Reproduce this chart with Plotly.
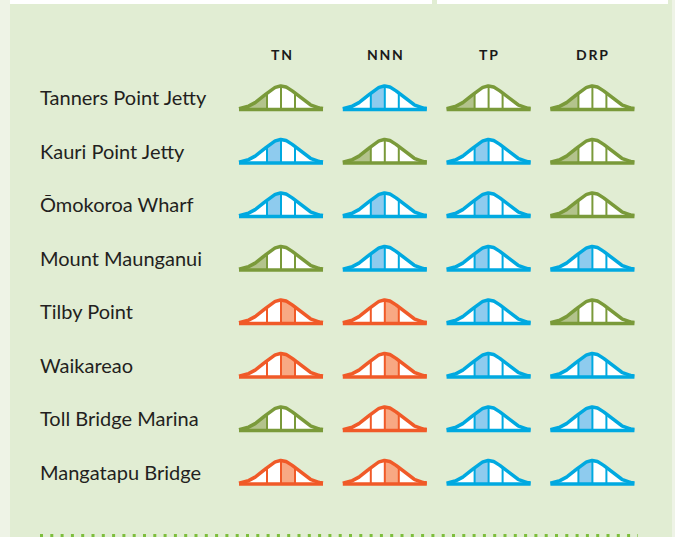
import numpy as np
import plotly.graph_objects as go

# sites (rows) and parameters (columns)
sites = [
    "Tanners Point Jetty",
    "Kauri Point Jetty",
    "Ōmokoroa Wharf",
    "Mount Maunganui",
    "Tilby Point",
    "Waikareao",
    "Toll Bridge Marina",
    "Mangatapu Bridge",
]
params = ["TN", "NNN", "TP", "DRP"]

# quartile band that each site falls in, per parameter (1 = lowest)
tn = [1, 2, 2, 1, 3, 3, 1, 3]
nnn = [2, 1, 2, 2, 3, 3, 3, 3]
tp = [1, 2, 2, 2, 2, 2, 2, 2]
drp = [1, 1, 1, 2, 1, 2, 2, 2]
quartiles = [tn, nnn, tp, drp]

# line colour / fill colour per quartile
LINE = {1: "#7A9A3A", 2: "#00A9E0", 3: "#F05A28", 4: "#C0392B"}
FILL = {1: "#B3C38C", 2: "#8ECBEE", 3: "#F8A883", 4: "#E8A09A"}

W, H = 675, 537
COL_PX, ROW_PX = 103.8, 53.5  # pixel spacing of the grid
X0_PX, Y0_PX = 281, 109.5  # first cell centre / baseline in pixels

# bell glyph geometry (pixels)
HALF_W, PEAK, SIGMA, DIV = 42.0, 23.5, 16.5, 14.0

fig = go.Figure()


def bell(dx):
    return PEAK * np.exp(-dx**2 / (2 * SIGMA**2))


for c, col in enumerate(quartiles):
    for r, q in enumerate(col):
        dx = np.linspace(-HALF_W, HALF_W, 121)
        xs = c + dx / COL_PX
        ys = r - bell(dx) / ROW_PX

        # white body
        fig.add_trace(go.Scatter(
            x=np.r_[xs, xs[::-1]], y=np.r_[ys, np.full_like(ys, r)],
            fill="toself", fillcolor="white", mode="none",
            hoverinfo="skip", showlegend=False,
        ))

        # shaded quartile segment
        edges = [-HALF_W, -DIV, 0.0, DIV, HALF_W]
        seg = np.linspace(edges[q - 1], edges[q], 40)
        sx = c + seg / COL_PX
        sy = r - bell(seg) / ROW_PX
        fig.add_trace(go.Scatter(
            x=np.r_[sx, sx[::-1]], y=np.r_[sy, np.full_like(sy, r)],
            fill="toself", fillcolor=FILL[q], mode="none",
            hoverinfo="skip", showlegend=False,
        ))

        # dividers
        dvx, dvy = [], []
        for d in (-DIV, 0.0, DIV):
            dvx += [c + d / COL_PX, c + d / COL_PX, None]
            dvy += [r, r - bell(d) / ROW_PX, None]
        fig.add_trace(go.Scatter(
            x=dvx, y=dvy, mode="lines",
            line=dict(color=LINE[q], width=2),
            hoverinfo="skip", showlegend=False,
        ))

        # outline: curve plus baseline
        fig.add_trace(go.Scatter(
            x=np.r_[xs, None, xs[0], xs[-1]],
            y=np.r_[ys, None, r, r],
            mode="lines",
            line=dict(color=LINE[q], width=3.5),
            hoverinfo="skip", showlegend=False,
        ))

# row labels
for r, name in enumerate(sites):
    fig.add_annotation(
        x=(38 - X0_PX) / COL_PX, y=r - 12.5 / ROW_PX,
        text=name, showarrow=False, xanchor="left", yanchor="middle",
        font=dict(family="Lato", size=20, color="#231F20"),
    )

# column headers
for c, p in enumerate(params):
    fig.add_annotation(
        x=c, y=(54.5 - Y0_PX) / ROW_PX,
        text="\u2009".join(p), showarrow=False,
        xanchor="center", yanchor="middle",
        font=dict(family="Lato", size=14, color="#1A1A1A", weight="bold"),
    )

shapes = [
    # pale strips on the side edges
    dict(type="rect", xref="paper", yref="paper", x0=0, x1=10 / W, y0=0, y1=1,
         fillcolor="#EEF3E6", line_width=0, layer="below"),
    dict(type="rect", xref="paper", yref="paper", x0=672 / W, x1=1, y0=0, y1=1,
         fillcolor="#EEF3E6", line_width=0, layer="below"),
    # white bands along the top
    dict(type="rect", xref="paper", yref="paper", x0=10 / W, x1=432 / W,
         y0=1 - 4 / H, y1=1, fillcolor="white", line_width=0, layer="below"),
    dict(type="rect", xref="paper", yref="paper", x0=437 / W, x1=668 / W,
         y0=1 - 4 / H, y1=1, fillcolor="white", line_width=0, layer="below"),
    # dotted rule at the bottom
    dict(type="line", xref="paper", yref="paper", x0=40 / W, x1=638 / W,
         y0=1.5 / H, y1=1.5 / H,
         line=dict(color="#7DBE3C", width=3, dash="3px,7.3px")),
]

fig.update_layout(
    width=W, height=H,
    margin=dict(l=0, r=0, t=0, b=0),
    paper_bgcolor="#E1EDD3", plot_bgcolor="#E1EDD3",
    xaxis=dict(range=[-X0_PX / COL_PX, (W - X0_PX) / COL_PX], visible=False,
               fixedrange=True),
    yaxis=dict(range=[(H - Y0_PX) / ROW_PX, -Y0_PX / ROW_PX], visible=False,
               fixedrange=True),
    shapes=shapes,
    showlegend=False,
)

fig.write_html(
    "out.html",
    config={"displayModeBar": False},
    post_script="document.body.style.margin='0';document.body.style.overflow='hidden';",
)
